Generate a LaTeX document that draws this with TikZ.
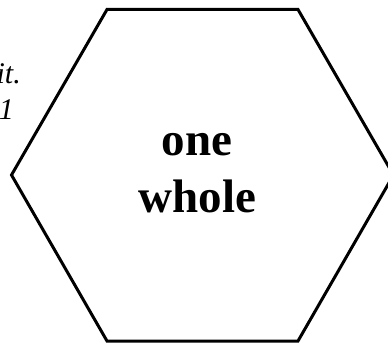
\documentclass[tikz,border=0pt]{standalone}
\usepackage{fontspec}
\setmainfont{Liberation Serif}
\tikzset{
  hexline/.style={draw=black, line width=3pt, line join=miter},
  bigword/.style={inner sep=0pt, font=\fontsize{47}{56}\selectfont\bfseries},
  sidenote/.style={inner sep=0pt, font=\fontsize{30}{36}\selectfont\itshape}
}
\begin{document}
\begin{tikzpicture}[x=1pt,y=1pt]
\useasboundingbox (0,0) rectangle (388,346);
\clip (0,0) rectangle (388,346);
\coordinate (tl) at (107,336.5);
\coordinate (tr) at (298,336.5);
\coordinate (r) at (393.5,171);
\coordinate (br) at (298,5);
\coordinate (bl) at (107,5);
\coordinate (l) at (11.5,171);
\draw[hexline] (tl) -- (tr) -- (r) -- (br) -- (bl) -- (l) -- cycle;
\node[bigword, anchor=base] (one) at (197,191) {one};
\node[bigword, anchor=base] (whole) at (197.5,134) {whole};
\node[sidenote, anchor=base east] (it) at (21,262) {it.};
\node[sidenote, anchor=base east] (n1) at (14,226) {1};
\end{tikzpicture}
\end{document}
